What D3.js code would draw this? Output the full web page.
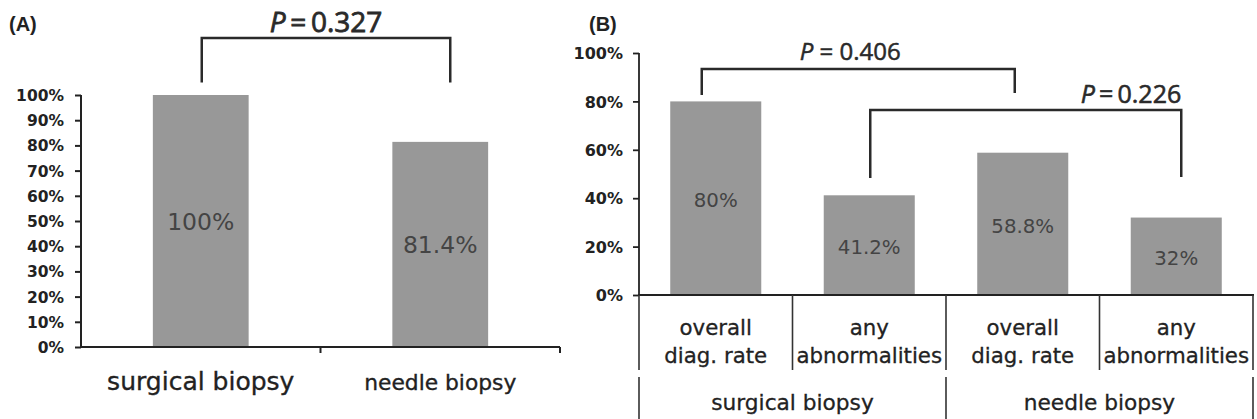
<!DOCTYPE html>
<html>
<head>
<meta charset="utf-8">
<script src="https://cdn.jsdelivr.net/npm/d3@7"></script>
<style>
  html, body { margin: 0; padding: 0; background: #fff; }
  svg { display: block; }
</style>
</head>
<body>
<div id="chart"></div>
<script>
// panel A data
const catsA = ["surgical biopsy", "needle biopsy"];
const valuesA = [100, 81.4];
const labelsA = ["100%", "81.4%"];
const ticksA = [0, 10, 20, 30, 40, 50, 60, 70, 80, 90, 100];
const bracketsA = [{ from: 0, to: 1, p: "0.327", top: 122.6, endL: 105, endR: 105, dxL: 1, dxR: 10 }];

// panel B data
const catsB = [["overall", "diag. rate"], ["any", "abnormalities"], ["overall", "diag. rate"], ["any", "abnormalities"]];
const groupsB = ["surgical biopsy", "needle biopsy"];
const valuesB = [80, 41.2, 58.8, 32];
const labelsB = ["80%", "41.2%", "58.8%", "32%"];
const ticksB = [0, 20, 40, 60, 80, 100];
const bracketsB = [
  { from: 0, to: 2, p: "0.406", top: 93.4, endL: 82.6, endR: 83.5, dxL: -14, dxR: -8, anchor: "middle" },
  { from: 1, to: 3, p: "0.226", top: 76.4, endL: 48.3, endR: 48.8, dxL: 1, dxR: 5, anchor: "end" }
];

const W = 1257, H = 419;
const barColor = "#989898";
const ink = "#222";

const svg = d3.select("#chart").append("svg")
  .attr("width", W).attr("height", H);

// ---------- panel A ----------
const xA = d3.scaleBand().domain(d3.range(catsA.length)).range([81, 560])
  .paddingInner(0.6).paddingOuter(0.3);
const yA = d3.scaleLinear().domain([0, 100]).range([347, 95]);

svg.append("text").attr("x", 9).attr("y", 31)
  .attr("font-family", "Liberation Sans, Arial, sans-serif")
  .attr("font-weight", "bold").attr("font-size", 20).attr("fill", ink)
  .text("(A)");

svg.selectAll(".barA").data(valuesA).enter().append("rect")
  .attr("x", (d, i) => xA(i)).attr("width", xA.bandwidth())
  .attr("y", d => yA(d)).attr("height", d => yA(0) - yA(d))
  .attr("fill", barColor);

svg.selectAll(".valA").data(valuesA).enter().append("text")
  .attr("x", (d, i) => xA(i) + xA.bandwidth() / 2)
  .attr("y", d => (yA(d) + yA(0)) / 2 + 9)
  .attr("text-anchor", "middle")
  .attr("font-family", "DejaVu Sans, sans-serif").attr("font-size", 23.5)
  .attr("fill", "#444")
  .text((d, i) => labelsA[i]);

const axA = svg.append("g").attr("transform", "translate(81,0)")
  .call(d3.axisLeft(yA).tickValues(ticksA).tickSize(6).tickPadding(11).tickFormat(d => d + "%"));
axA.select(".domain").attr("stroke", ink).attr("stroke-width", 2).attr("d", "M0," + yA(100) + "V" + yA(0));
axA.selectAll(".tick line").attr("stroke", ink).attr("stroke-width", 2);
axA.selectAll(".tick text").attr("font-family", "DejaVu Sans, sans-serif")
  .attr("font-weight", "bold").attr("font-size", 15.5).attr("fill", ink).attr("dy", "0.36em");

// x axis A
svg.append("line").attr("x1", 80).attr("x2", 560).attr("y1", yA(0)).attr("y2", yA(0))
  .attr("stroke", ink).attr("stroke-width", 2.2);
svg.selectAll(".tickXA").data(d3.range(catsA.length)).enter().append("line")
  .attr("x1", i => xA(i) + xA.bandwidth() / 2 + xA.step() / 2)
  .attr("x2", i => xA(i) + xA.bandwidth() / 2 + xA.step() / 2)
  .attr("y1", yA(0)).attr("y2", yA(0) + 6)
  .attr("stroke", ink).attr("stroke-width", 2);

svg.selectAll(".catA").data(catsA).enter().append("text")
  .attr("x", (d, i) => xA(i) + xA.bandwidth() / 2)
  .attr("y", 390)
  .attr("text-anchor", "middle")
  .attr("font-family", "DejaVu Sans, sans-serif")
  .attr("font-size", (d, i) => i === 0 ? 25 : 21.8)
  .attr("fill", ink).attr("stroke", ink).attr("stroke-width", 0.35)
  .text(d => d);

function drawBracket(b, x, y, opt) {
  const xl = x(b.from) + x.bandwidth() / 2 + (b.dxL || 0);
  const xr = x(b.to) + x.bandwidth() / 2 + (b.dxR || 0);
  svg.append("path")
    .attr("d", "M" + xl + "," + y(b.endL) + "V" + y(b.top) + "H" + xr + "V" + y(b.endR))
    .attr("fill", "none").attr("stroke", "#2a2a2a").attr("stroke-width", 2.5);
  const anchor = b.anchor || "middle";
  const tx = anchor === "end" ? xr : (xl + xr) / 2 + (opt.dx || 0);
  const t = svg.append("text")
    .attr("x", tx).attr("y", y(b.top) - opt.gap)
    .attr("text-anchor", anchor)
    .attr("font-family", "Open Sans, sans-serif")
    .attr("font-size", opt.size).attr("fill", "#2a2a2a")
    .attr("stroke", "#2a2a2a").attr("stroke-width", opt.weight || 0.6);
  t.append("tspan").attr("font-style", "italic").text("P");
  t.append("tspan").text(opt.spaced ? " = " + b.p : "\u2009=\u2009" + b.p);
}

bracketsA.forEach(b => drawBracket(b, xA, yA, { size: 28, gap: 6, spaced: false, weight: 0.8 }));

// ---------- panel B ----------
const xB = d3.scaleBand().domain(d3.range(catsB.length)).range([639, 1253])
  .paddingInner(0.407).paddingOuter(0.2035);
const yB = d3.scaleLinear().domain([0, 100]).range([295, 53]);

svg.append("text").attr("x", 589).attr("y", 31)
  .attr("font-family", "Liberation Sans, Arial, sans-serif")
  .attr("font-weight", "bold").attr("font-size", 20).attr("fill", ink)
  .text("(B)");

svg.selectAll(".barB").data(valuesB).enter().append("rect")
  .attr("x", (d, i) => xB(i)).attr("width", xB.bandwidth())
  .attr("y", d => yB(d)).attr("height", d => yB(0) - yB(d))
  .attr("fill", barColor);

svg.selectAll(".valB").data(valuesB).enter().append("text")
  .attr("x", (d, i) => xB(i) + xB.bandwidth() / 2)
  .attr("y", d => (yB(d) + yB(0)) / 2 + 9)
  .attr("text-anchor", "middle")
  .attr("font-family", "DejaVu Sans, sans-serif").attr("font-size", 19.8)
  .attr("fill", "#444")
  .text((d, i) => labelsB[i]);

const axB = svg.append("g").attr("transform", "translate(639,0)")
  .call(d3.axisLeft(yB).tickValues(ticksB).tickSize(6).tickPadding(10).tickFormat(d => d + "%"));
axB.select(".domain").attr("stroke", ink).attr("stroke-width", 1.8).attr("d", "M0," + yB(100) + "V" + yB(0));
axB.selectAll(".tick line").attr("stroke", ink).attr("stroke-width", 1.8);
axB.selectAll(".tick text").attr("font-family", "DejaVu Sans, sans-serif")
  .attr("font-weight", "bold").attr("font-size", 16).attr("fill", ink).attr("dy", "0.36em");

// x axis B with category dividers
svg.append("line").attr("x1", 638).attr("x2", 1254).attr("y1", yB(0)).attr("y2", yB(0))
  .attr("stroke", ink).attr("stroke-width", 2.2);

const divB = d3.range(catsB.length + 1).map(i => ({
  x: i < catsB.length ? xB(i) - xB.paddingInner() * xB.step() / 2 : xB(i - 1) + xB.bandwidth() + xB.paddingInner() * xB.step() / 2,
  group: i % 2 === 0
}));
divB.forEach(d => {
  svg.append("line").attr("x1", d.x).attr("x2", d.x).attr("y1", yB(0)).attr("y2", 370)
    .attr("stroke", "#333").attr("stroke-width", 1.6);
  if (d.group) {
    svg.append("line").attr("x1", d.x).attr("x2", d.x).attr("y1", 377).attr("y2", H)
      .attr("stroke", "#333").attr("stroke-width", 1.6);
  }
});

catsB.forEach((lines, i) => {
  const t = svg.append("text")
    .attr("text-anchor", "middle")
    .attr("font-family", "DejaVu Sans, sans-serif").attr("font-size", 21.3)
    .attr("fill", ink).attr("stroke", ink).attr("stroke-width", 0.3);
  lines.forEach((s, k) => {
    t.append("tspan").attr("x", xB(i) + xB.bandwidth() / 2).attr("y", 335 + k * 28).text(s);
  });
});

groupsB.forEach((g, k) => {
  const xm = (xB(2 * k) + xB(2 * k + 1) + xB.bandwidth()) / 2;
  svg.append("text").attr("x", xm).attr("y", 410)
    .attr("text-anchor", "middle")
    .attr("font-family", "DejaVu Sans, sans-serif").attr("font-size", 21.7)
    .attr("fill", ink).attr("stroke", ink).attr("stroke-width", 0.3).text(g);
});

drawBracket(bracketsB[0], xB, yB, { size: 24, gap: 9, spaced: true, dx: -8, weight: 0.5 });
drawBracket(bracketsB[1], xB, yB, { size: 25, gap: 7, spaced: false, weight: 0.6 });
</script>
</body>
</html>
